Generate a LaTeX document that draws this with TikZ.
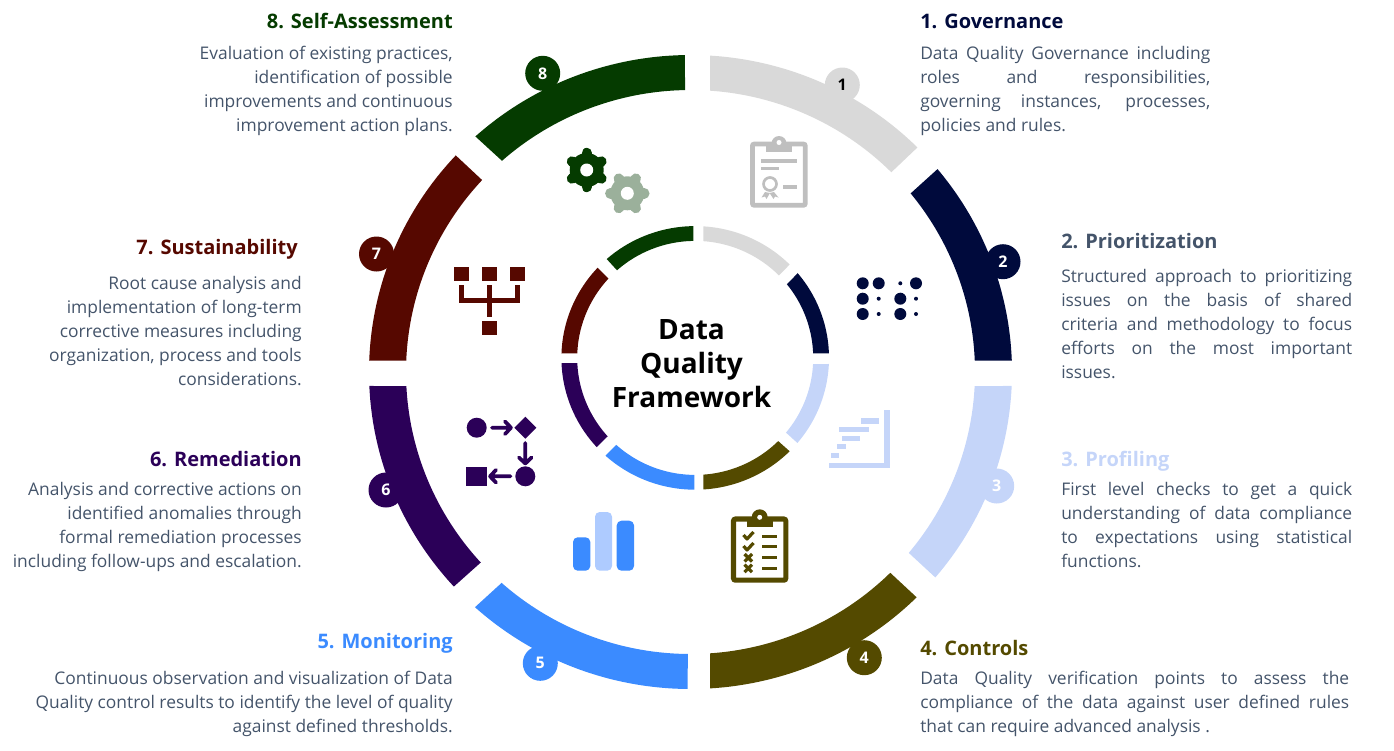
\documentclass[tikz,border=0pt]{standalone}
\usepackage{fontspec}
\setmainfont{Open Sans}
\definecolor{cgrey}{HTML}{D9D9D9}
\definecolor{cnavy}{HTML}{000A3C}
\definecolor{clight}{HTML}{C5D5F9}
\definecolor{colive}{HTML}{544A00}
\definecolor{cblue}{HTML}{3B8BFF}
\definecolor{cpurple}{HTML}{2B0058}
\definecolor{cmaroon}{HTML}{560800}
\definecolor{cgreen}{HTML}{053B00}
\definecolor{cbody}{HTML}{44546A}
\definecolor{ciconA}{HTML}{BFBFBF}
\definecolor{cgearB}{HTML}{9BB09B}
\definecolor{cbarB}{HTML}{AECBFF}
\newcommand\ringparams[6]{\def\bcx{#1}\def\bcy{#2}\def\oRx{#3}\def\oRy{#4}\def\iRx{#5}\def\iRy{#6}}
\newcommand\band[5]{\fill[#1] plot[domain=#2:#3,samples=50] ({\bcx+\oRx*cos(\x)},{\bcy-\oRy*sin(\x)}) -- plot[domain=#5:#4,samples=50] ({\bcx+\iRx*cos(\x)},{\bcy-\iRy*sin(\x)}) -- cycle;}
\newcommand\jl[2]{\makebox[#1][s]{#2}}
\newcommand\gearicon[4]{%
  \fill[#3] (#1,#2) circle[radius=17];
  \foreach \a in {0,60,...,300}{\draw[#3,line width=7.8pt,line cap=round] (#1,#2) -- ++({17*cos(\a+#4)},{17*sin(\a+#4)});}
  \fill[white] (#1,#2) circle[radius=6.5];}
\tikzset{
  x=0.75pt,y=-0.75pt,
  bodytext/.style={font=\fontsize{13.05}{18}\selectfont,text=cbody,inner sep=0pt,execute at begin node={\strut}},
  headtext/.style={font=\fontsize{15}{18}\selectfont\bfseries,inner sep=0pt,anchor=base},
  leftblock/.style={bodytext,anchor=north east,align=right},
  rightblock/.style={bodytext,anchor=north west,align=left},
  badge/.style={circle,inner sep=0pt,minimum size=26.25pt,font=\fontsize{12}{14}\selectfont\bfseries,text=white},
  thinline/.style={line width=2.8pt},
  mark tick/.style={line width=2.4pt,line join=round},
}
\begin{document}
\begin{tikzpicture}
\useasboundingbox (0,0) rectangle (1394,750);
% outer ring
\ringparams{690.5}{372}{321.5}{317}{284.5}{282}
\band{cgrey}{86.5}{45.1}{86.07}{45.1}
\band{cnavy}{39.8}{2.04}{39.3}{2.3}
\band{clight}{-2.53}{-40.4}{-2.85}{-39.9}
\band{colive}{-45.3}{-86.5}{-45.4}{-86.07}
\band{cblue}{-90.5}{-132.1}{-90.55}{-131.6}
\band{cpurple}{-137.4}{-177.47}{-137.5}{-177.15}
\band{cmaroon}{177.96}{136.9}{177.7}{137.1}
\band{cgreen}{132}{91}{131.5}{91.1}
% inner ring
\ringparams{695.2}{357.9}{133.8}{131.8}{118}{117}
\band{cgrey}{86.5}{45.1}{86.07}{44.8}
\band{cnavy}{40}{2}{39}{2.25}
\band{clight}{-2.65}{-40.2}{-3}{-39.7}
\band{colive}{-45.1}{-86.5}{-45.3}{-86.07}
\band{cblue}{-90.4}{-132.1}{-90.45}{-132}
\band{cpurple}{-137.4}{-177.7}{-137.9}{-177.4}
\band{cmaroon}{178}{136.8}{177.8}{137.3}
\band{cgreen}{131.4}{90.8}{131.5}{90.9}
% badges
\node[badge,fill=cgrey,text=black] (b1) at (842.3,85) {1};
\node[badge,fill=cnavy] (b2) at (1003,261.7) {2};
\node[badge,fill=clight] (b3) at (996.7,486) {3};
\node[badge,fill=colive] (b4) at (864.3,657.7) {4};
\node[badge,fill=cblue] (b5) at (540.3,663.3) {5};
\node[badge,fill=cpurple] (b6) at (386,490) {6};
\node[badge,fill=cmaroon] (b7) at (376.5,254) {7};
\node[badge,fill=cgreen] (b8) at (542.7,73.3) {8};
% centre title
\node[font=\fontsize{21}{25.5}\selectfont\bfseries,align=center,inner sep=0pt,text=black] (title) at (691.5,364) {Data\\Quality\\Framework};
% icon 1: certificate clipboard
\draw[ciconA,line width=3.6pt,rounded corners=1.5pt] (752.4,144) rectangle (805.3,205.3);
\fill[ciconA] (766,146) rectangle (792,152);
\fill[ciconA] (779,143.5) circle[radius=7.5];
\fill[white] (779,142.5) circle[radius=2.5];
\fill[ciconA] (761,159.3) rectangle (796.7,162.7);
\fill[ciconA] (761,166.6) rectangle (779,170);
\draw[ciconA,line width=2pt] (770,184) circle[radius=6.5];
\fill[ciconA] (783.3,185.3) rectangle (796.7,188.7);
\fill[ciconA] (765,192) -- (770,193) -- (766.5,199) -- (765,196.5) -- (761.5,197.5) -- cycle;
\fill[ciconA] (774,192) -- (769.5,193) -- (773.5,199) -- (775,196.5) -- (778.5,197.5) -- cycle;
% icon 2: dots
\foreach \px/\py/\pr in {862.7/283.3/6,878.7/283.3/6,900.3/283.3/2,916/283.3/6,
  862.7/298.7/6,878.7/298.7/2,900.3/298.7/6,916/298.7/2,
  862.7/314/6,878.7/314/2,900.3/314/6,916/314/2}
  {\fill[cnavy] (\px,\py) circle[radius=\pr];}
% icon 3: stairs chart
\fill[clight] (884.3,410) rectangle (889.7,468);
\fill[clight] (829.3,462.7) rectangle (889.7,468);
\fill[clight] (861,418.3) rectangle (879,423.7);
\fill[clight] (839,427) rectangle (869.3,432.3);
\fill[clight] (841.7,435.7) rectangle (859.7,441);
\fill[clight] (837,444) rectangle (846.3,449.3);
\fill[clight] (831,452.7) rectangle (839.3,458);
% icon 4: checklist
\draw[colive,line width=3.8pt,rounded corners=1.5pt] (733.5,519) rectangle (785.8,580.2);
\fill[colive] (746.7,517) rectangle (772.7,527.3);
\fill[colive] (759.7,517.3) circle[radius=8];
\fill[white] (759.7,517.3) circle[radius=2.5];
\draw[colive,mark tick] (743.5,535) -- (747,539) -- (753.5,532);
\draw[colive,mark tick] (743.5,546) -- (747,550) -- (753.5,543);
\draw[colive,mark tick] (744.5,554) -- (752,561.5) (752,554) -- (744.5,561.5);
\draw[colive,mark tick] (744.5,564.7) -- (752,572.2) (752,564.7) -- (744.5,572.2);
\foreach \ly in {536,546.8,557.6,568.3}
  {\fill[colive] (761.7,\ly-1.5) rectangle (777.3,\ly+1.5);}
% icon 5: bars
\fill[cblue,rounded corners=3.5pt] (573,537.3) rectangle (590.3,570.7);
\fill[cbarB,rounded corners=3.5pt] (595,512) rectangle (612,570.7);
\fill[cblue,rounded corners=3.5pt] (616.7,520.7) rectangle (634,570.7);
% icon 6: flow
\fill[cpurple] (476.7,427.7) circle[radius=10];
\fill[cpurple] (525.3,416.7) -- (536.3,427.7) -- (525.3,438.7) -- (514.3,427.7) -- cycle;
\fill[cpurple] (525.3,476.3) circle[radius=10];
\fill[cpurple] (466.3,466.7) rectangle (487,486);
\draw[cpurple,thinline,line cap=round,line join=round] (492,427.7) -- (511,427.7) (505,421.5) -- (511,427.7) -- (505,434);
\draw[cpurple,thinline,line cap=round,line join=round] (525.3,443) -- (525.3,463.5) (519,457.5) -- (525.3,463.5) -- (531.6,457.5);
\draw[cpurple,thinline,line cap=round,line join=round] (510.5,476.3) -- (490,476.3) (496,470) -- (490,476.3) -- (496,482.6);
% icon 7: hierarchy
\foreach \sx in {454.3,482.3,510.3}{\fill[cmaroon] (\sx,266.7) rectangle ++(14.7,14.3);}
\fill[cmaroon] (482.3,321) rectangle (497,335);
\draw[cmaroon,line width=3.75pt] (461.8,285) -- (461.8,300.8) -- (517.5,300.8) -- (517.5,285);
\draw[cmaroon,line width=3.75pt] (489.7,285) -- (489.7,316.7);
% icon 8: gears
\gearicon{586.7}{170}{cgreen}{30}
\gearicon{627.3}{193.3}{cgearB}{0}
% headings
\node[headtext,anchor=base west,text=cnavy] (h1) at (920,28) {1. Governance};
\node[headtext,anchor=base west,text=cbody] (h2) at (1061,248) {2. Prioritization};
\node[headtext,anchor=base west,text=clight] (h3) at (1061,466) {3. Profiling};
\node[headtext,anchor=base west,text=colive] (h4) at (920,655) {4. Controls};
\node[headtext,anchor=base east,text=cblue] (h5) at (453,648) {5. Monitoring};
\node[headtext,anchor=base east,text=cpurple] (h6) at (302,466) {6. Remediation};
\node[headtext,anchor=base east,text=cmaroon] (h7) at (298,254) {7. Sustainability};
\node[headtext,anchor=base east,text=cgreen] (h8) at (453,28) {8. Self-Assessment};
% body texts
\node[rightblock] (t1) at (920,46.2) {\jl{217.5pt}{Data Quality Governance including}\\\jl{217.5pt}{roles and responsibilities,}\\\jl{217.5pt}{governing instances, processes,}\\policies and rules.};
\node[rightblock] (t2) at (1061,269.2) {\jl{218.2pt}{Structured approach to prioritizing}\\\jl{218.2pt}{issues on the basis of shared}\\\jl{218.2pt}{criteria and methodology to focus}\\\jl{218.2pt}{efforts on the most important}\\issues.};
\node[rightblock] (t3) at (1061,482.2) {\jl{218.2pt}{First level checks to get a quick}\\\jl{218.2pt}{understanding of data compliance}\\\jl{218.2pt}{to expectations using statistical}\\functions.};
\node[rightblock] (t4) at (920,671.2) {\jl{321.7pt}{Data Quality verification points to assess the}\\\jl{321.7pt}{compliance of the data against user defined rules}\\that can require advanced analysis .};
\node[leftblock] (t5) at (453,671.2) {Continuous observation and visualization of Data\\Quality control results to identify the level of quality\\against defined thresholds.};
\node[leftblock] (t6) at (302,482.2) {Analysis and corrective actions on\\identified anomalies through\\formal remediation processes\\including follow-ups and escalation.};
\node[leftblock] (t7) at (302,276.2) {Root cause analysis and\\implementation of long-term\\corrective measures including\\organization, process and tools\\considerations.};
\node[leftblock] (t8) at (453,46.2) {Evaluation of existing practices,\\identification of possible\\improvements and continuous\\improvement action plans.};
\end{tikzpicture}
\end{document}
